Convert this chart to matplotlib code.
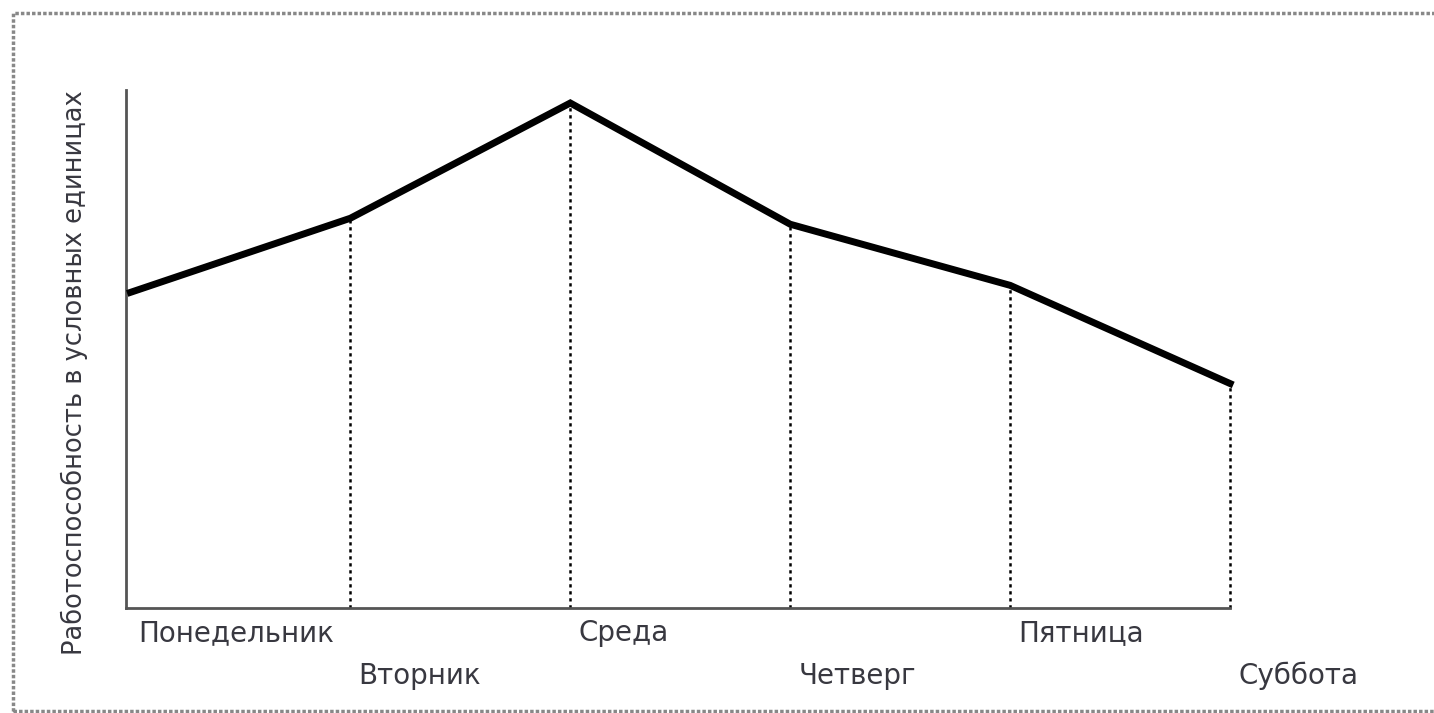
import matplotlib
matplotlib.use("Agg")
import matplotlib.pyplot as plt
from matplotlib.patches import Rectangle

# Data
days = ["Понедельник", "Вторник", "Среда", "Четверг", "Пятница", "Суббота"]
capacity = [31.5, 38.9, 50.4, 38.3, 32.2, 22.4]
y_label = "Работоспособность в условных единицах"

plt.rcParams['font.family'] = ['DejaVu Sans']

fig = plt.figure(figsize=(14.34, 7.13), dpi=100)
ax = fig.add_axes([0.0879, 0.1473, 0.7699, 0.7265])

x = list(range(len(days)))
ax.plot(x, capacity, color='black', lw=5, solid_joinstyle='miter', zorder=3, clip_on=False)

# dotted drop lines from each point except the first
for xi, yi in zip(x[1:], capacity[1:]):
    ax.plot([xi, xi], [0, yi], color='black', lw=1.8, ls=(0, (1.3, 1.5)), zorder=2,
            clip_on=False)

ax.set_xlim(-0.02, 5.0)
ax.set_ylim(0, 51.7)
ax.set_xticks([])
ax.set_yticks([])
for s in ['top', 'right']:
    ax.spines[s].set_visible(False)
for s in ['left', 'bottom']:
    ax.spines[s].set_color('#555555')
    ax.spines[s].set_linewidth(2)

# staggered day labels
for i, day in enumerate(days):
    row = 0.048 if i % 2 == 0 else 0.131
    ax.annotate(day, (x[i], -row), xycoords=('data', 'axes fraction'),
                xytext=(8, 0), textcoords='offset pixels',
                ha='left', va='center', fontsize=20, color='#383840')

fig.text(0.052, 0.478, y_label, rotation=90, ha='center', va='center',
         fontsize=18.5, color='#383840')

# dotted frame round the picture
frame = Rectangle((13 / 1434, 2 / 713), 1.1, 698 / 713, transform=fig.transFigure,
                  fill=False, edgecolor='#888888', lw=2.5, ls=(0, (1, 0.6)))
fig.patches.append(frame)

fig.savefig("out.png", dpi=100)
